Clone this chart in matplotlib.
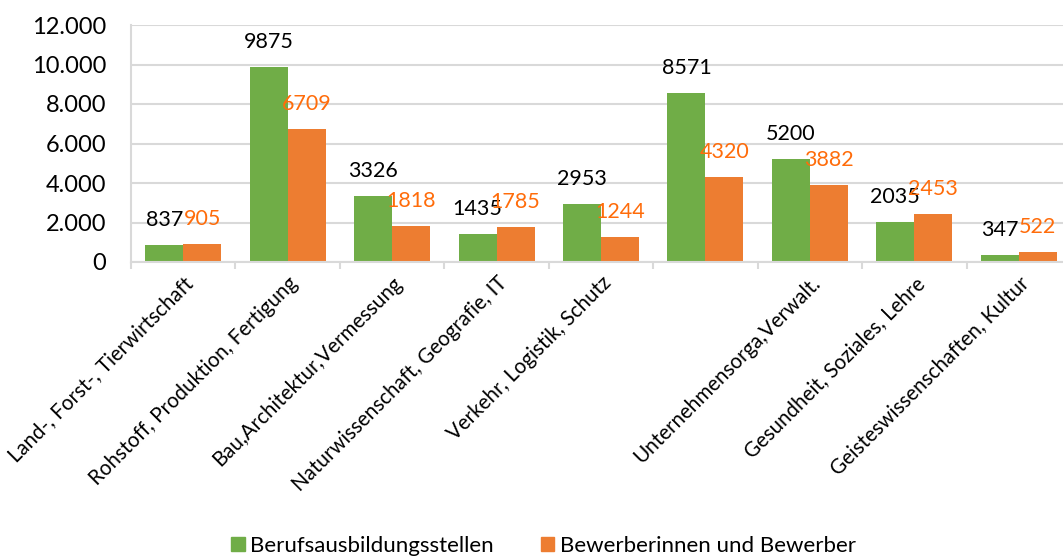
import matplotlib
matplotlib.use("Agg")
import matplotlib.pyplot as plt
from matplotlib.ticker import FuncFormatter, MultipleLocator, FixedLocator
from matplotlib.patches import Patch
import numpy as np

plt.rcParams['font.family'] = ['Lato', 'DejaVu Sans']

# Category axis labels (the sixth group carries no label)
categories = [
    "Land-, Forst-, Tierwirtschaft",
    "Rohstoff, Produktion, Fertigung",
    "Bau,Architektur,Vermessung",
    "Naturwissenschaft, Geografie, IT",
    "Verkehr, Logistik, Schutz",
    "",
    "Unternehmensorga,Verwalt.",
    "Gesundheit, Soziales, Lehre",
    "Geisteswissenschaften, Kultur",
]
stellen = [837, 9875, 3326, 1435, 2953, 8571, 5200, 2035, 347]
bewerber = [905, 6709, 1818, 1785, 1244, 4320, 3882, 2453, 522]
series_names = ["Berufsausbildungsstellen", "Bewerberinnen und Bewerber"]

GREEN = "#70AD47"
ORANGE = "#ED7D31"
ORANGE_TXT = "#FF6C0A"
GRID = "#D9D9D9"

fig = plt.figure(figsize=(10.63, 5.56), dpi=100)
# plot area runs slightly past the right edge of the canvas
ax = fig.add_axes([131 / 1063, 1 - 262 / 556, 940 / 1063, 237 / 556])

n = len(stellen)
x = np.arange(n)
w = 0.364
ax.bar(x - w / 2, stellen, width=w, color=GREEN, zorder=2)
ax.bar(x + w / 2, bewerber, width=w, color=ORANGE, zorder=2)

for xi, v in zip(x, stellen):
    ax.annotate(str(v), (xi - w / 2, v), xytext=(0, 18), textcoords="offset points",
                ha="center", va="center", fontsize=15.5, color="black", zorder=3)
for xi, v in zip(x, bewerber):
    ax.annotate(str(v), (xi + w / 2, v), xytext=(0, 18), textcoords="offset points",
                ha="center", va="center", fontsize=15.5, color=ORANGE_TXT, zorder=4)

ax.set_xlim(-0.5, n - 0.5)
ax.set_ylim(0, 12000)
ax.yaxis.set_major_locator(MultipleLocator(2000))
ax.yaxis.set_major_formatter(FuncFormatter(lambda v, p: f"{int(v):,}".replace(",", ".")))
ax.grid(axis="y", color=GRID, linewidth=1.5, zorder=0)
ax.tick_params(axis="y", length=0, pad=18, labelsize=17)

ax.set_xticks(x)
ax.set_xticklabels(categories, rotation=45, ha="right", rotation_mode="anchor", fontsize=14.8)
ax.tick_params(axis="x", which="major", length=0, pad=8)
ax.xaxis.set_minor_locator(FixedLocator(np.arange(-0.5, n, 1.0)))
ax.tick_params(axis="x", which="minor", length=5, width=1.5, color=GRID)

for s in ["top", "right"]:
    ax.spines[s].set_visible(False)
for s in ["left", "bottom"]:
    ax.spines[s].set_color(GRID)
    ax.spines[s].set_linewidth(1.5)

handles = [Patch(color=GREEN), Patch(color=ORANGE)]
fig.legend(handles, series_names, loc="center", bbox_to_anchor=(543.5 / 1063, 1 - 546 / 556),
           ncol=2, frameon=False, fontsize=16, handlelength=0.6, handleheight=0.6,
           handletextpad=0.25, columnspacing=2.1, borderpad=0)

fig.savefig("out.png", dpi=100)
